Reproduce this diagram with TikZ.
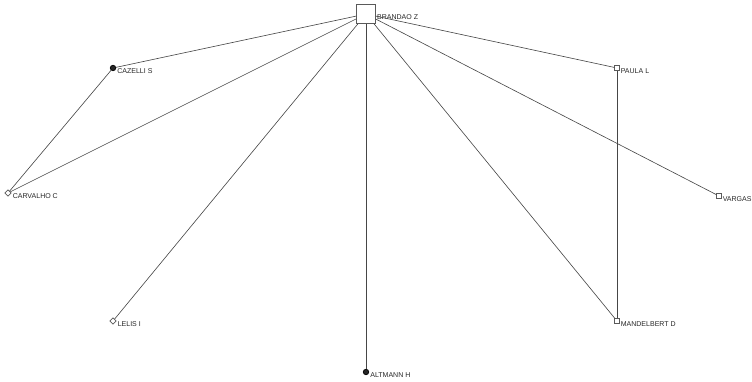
\documentclass[tikz,border=0pt]{standalone}
\usepackage{fontspec}
\setmainfont{Liberation Sans}
\usepackage{tikz}
\usetikzlibrary{positioning, shapes.geometric}
\definecolor{edgegray}{RGB}{70,70,70}
\definecolor{nodegray}{RGB}{90,90,90}
\tikzset{
  lbl/.style={font=\fontsize{4}{5}\selectfont, text=black!85, inner sep=0.5pt, anchor=west, yshift=-1.6pt},
  hub/.style={draw=nodegray, fill=white, minimum size=0.38cm, inner sep=0pt, line width=0.4pt},
  opensq/.style={draw=nodegray, fill=white, minimum size=0.09cm, inner sep=0pt, line width=0.35pt},
  opendia/.style={draw=nodegray, fill=white, diamond, minimum size=0.13cm, inner sep=0pt, line width=0.35pt},
  fullcirc/.style={circle, draw=black, fill=black!85, minimum size=0.11cm, inner sep=0pt},
  tie/.style={draw=edgegray, line width=0.35pt}
}
\begin{document}
\begin{tikzpicture}[x=0.02cm, y=-0.02cm]
  \useasboundingbox (0,0) rectangle (752,382);
  % actors
  \node[hub] (brandao) at (366,14) {};
  \node[lbl] at (brandao.east) {BRANDAO Z};
  \node[fullcirc, label={[lbl]east:CAZELLI S}] (cazelli) at (113,68) {};
  \node[opendia, label={[lbl]east:CARVALHO C}] (carvalho) at (8,193) {};
  \node[opensq, label={[lbl]east:PAULA L}] (paula) at (617,68) {};
  \node[opensq, label={[lbl]east:VARGAS}] (vargas) at (719,196) {};
  \node[opendia, label={[lbl]east:LELIS I}] (lelis) at (113,321) {};
  \node[opensq, label={[lbl]east:MANDELBERT D}] (mandel) at (617,321) {};
  \node[fullcirc, label={[lbl]east:ALTMANN H}] (altmann) at (366,372) {};
  % ties
  \foreach \t in {cazelli, carvalho, lelis, altmann, mandel, vargas, paula}
    \draw[tie] (brandao) -- (\t);
  \draw[tie] (cazelli) -- (carvalho);
  \draw[tie] (paula) -- (mandel);
\end{tikzpicture}
\end{document}
